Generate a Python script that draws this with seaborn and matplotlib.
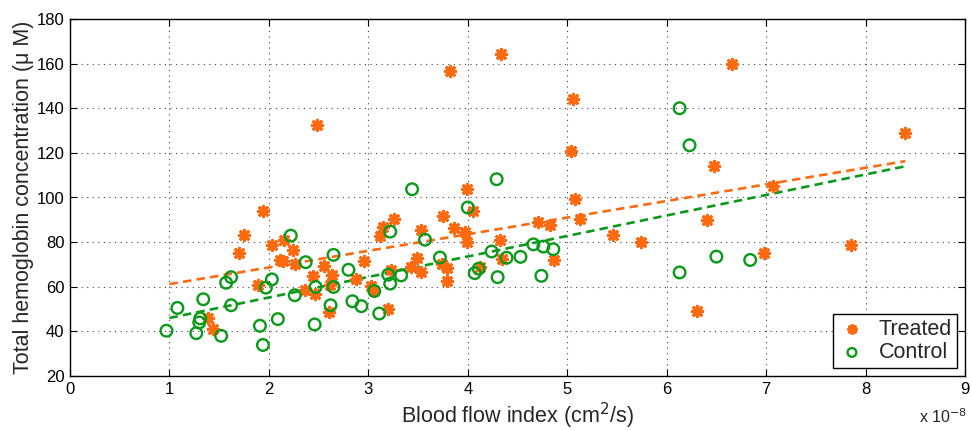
import matplotlib
matplotlib.use("Agg")
import matplotlib.pyplot as plt
import seaborn as sns
import numpy as np
import pandas as pd

# ---- data (blood flow index in units of 1e-8 cm^2/s, THC in uM) ----
treated_x = [1.94, 1.75, 1.70, 2.03, 2.15, 2.24, 2.11, 2.14, 2.26, 2.55, 2.44, 2.63,
             2.46, 2.60, 1.89, 1.39, 1.44, 2.36, 2.61,
             3.99, 4.05, 3.75, 3.26, 3.15, 3.12, 3.53, 3.86, 3.97, 3.99, 4.32, 2.96,
             2.88, 3.49, 3.43, 3.53, 3.23, 3.74, 3.79, 3.79, 4.34, 4.12, 3.03, 3.06,
             3.20,
             4.33, 5.06, 5.04, 5.08, 5.13, 4.71, 4.83, 4.87, 5.46, 5.74, 6.66, 6.48,
             6.41, 6.31, 6.98, 8.40, 7.07, 7.85, 2.48, 3.82]
treated_y = [93.8, 83.2, 75.2, 78.9, 81.1, 76.4, 71.8, 71.5, 70.3, 69.1, 64.6, 65.1,
             56.9, 48.7, 60.6, 45.8, 41.0, 58.7, 61.0,
             103.7, 94.1, 91.5, 90.2, 86.6, 82.6, 85.4, 86.2, 84.7, 80.2, 81.1, 71.5,
             63.3, 72.8, 68.8, 66.6, 67.6, 70.3, 68.5, 62.4, 72.5, 68.8, 60.3, 58.1,
             49.9,
             164.2, 144.3, 120.9, 99.5, 90.5, 89.0, 87.5, 72.0, 83.0, 80.1, 159.9, 113.9,
             90.0, 49.3, 75.0, 128.9, 105.1, 78.8, 132.4, 156.9]

control_x = [0.97, 1.08, 1.34, 1.31, 1.30, 1.27, 1.52, 1.62, 1.57, 1.62, 1.91, 1.94,
             1.97, 2.03, 2.09, 2.22, 2.37, 2.26, 2.46, 2.47, 2.65, 2.65, 2.62, 2.80,
             3.44, 4.29, 4.00, 3.22, 3.57, 3.72, 4.24, 4.39, 4.53, 3.20, 3.33, 3.22,
             3.06, 2.84, 2.93, 3.11, 4.07, 4.11, 4.30,
             6.13, 6.23, 4.66, 4.76, 4.86, 4.74, 6.13, 6.50, 6.84]
control_y = [40.3, 50.5, 54.4, 45.8, 44.0, 39.2, 38.0, 64.3, 61.8, 51.7, 42.5, 33.9,
             59.6, 63.3, 45.5, 82.9, 71.0, 56.2, 43.1, 59.9, 74.3, 59.9, 51.7, 67.6,
             103.7, 108.2, 95.5, 84.7, 81.1, 73.1, 75.8, 73.0, 73.4, 65.4, 65.1, 61.4,
             58.1, 53.5, 51.3, 48.0, 66.1, 68.1, 64.3,
             140.0, 123.4, 79.0, 78.0, 76.8, 64.9, 66.4, 73.5, 72.0]

# linear trend lines (end points of the fitted lines)
trend_x = [1.0, 8.4]
trend_treated = [61.2, 116.3]
trend_control = [46.0, 114.0]

x_ticks = [0, 1, 2, 3, 4, 5, 6, 7, 8, 9]
y_ticks = [20, 40, 60, 80, 100, 120, 140, 160, 180]

ORANGE = "#FF6A10"
GREEN = "#0A9A1A"

sns.set_theme(style="white")
plt.rcParams['font.family'] = ['Liberation Sans', 'DejaVu Sans']

fig = plt.figure(figsize=(9.71, 4.30), dpi=100)
ax = fig.add_axes([70/971, 1-376/430, (965-70)/971, (376-19)/430])

df_t = pd.DataFrame({"x": treated_x, "y": treated_y})
df_c = pd.DataFrame({"x": control_x, "y": control_y})

sns.scatterplot(data=df_t, x="x", y="y", ax=ax, marker=(8, 2, 0), s=55,
                color=ORANGE, edgecolor=ORANGE, linewidth=2.2, label="Treated", zorder=3)
sns.scatterplot(data=df_c, x="x", y="y", ax=ax, marker="o", s=70,
                facecolor="none", edgecolor=GREEN, linewidth=1.7, label="Control", zorder=4)

sns.lineplot(x=trend_x, y=trend_treated, ax=ax, color=ORANGE, lw=1.9,
             dashes=False, zorder=2, legend=False).lines[-1].set_dashes([3.2, 2.0])
sns.lineplot(x=trend_x, y=trend_control, ax=ax, color=GREEN, lw=1.9,
             dashes=False, zorder=2, legend=False).lines[-1].set_dashes([3.2, 2.0])

ax.set_xlim(0, 9)
ax.set_ylim(20, 180)
ax.set_xticks(x_ticks)
ax.set_yticks(y_ticks)
ax.set_xticklabels([str(t) for t in x_ticks], fontsize=12)
ax.set_yticklabels([str(t) for t in y_ticks], fontsize=12)
ax.tick_params(direction="in", length=5, width=0.8, top=True, right=True,
               bottom=True, left=True, colors="black", pad=4)
ax.grid(True, linestyle=(0, (1, 4)), color="#444444", linewidth=0.8)
for sp in ax.spines.values():
    sp.set_color("black")
    sp.set_linewidth(1.0)

ax.set_xlabel("Blood flow index (cm$^2$/s)", fontsize=15.5, labelpad=3)
ax.set_ylabel("Total hemoglobin concentration (\u03bc M)", fontsize=15.5, labelpad=2)
ax.text(1.002, -0.088, "x 10$^{-8}$", transform=ax.transAxes, ha="right", va="top",
        fontsize=11.5)

leg = ax.legend(loc="lower right", fontsize=15.5, frameon=True, fancybox=False,
                edgecolor="black", framealpha=1, borderpad=0.25, handletextpad=0.6,
                labelspacing=0.1, borderaxespad=0.35, handlelength=1.3, markerscale=0.75)
leg.get_frame().set_linewidth(1.0)

fig.savefig("out.png", dpi=100)
